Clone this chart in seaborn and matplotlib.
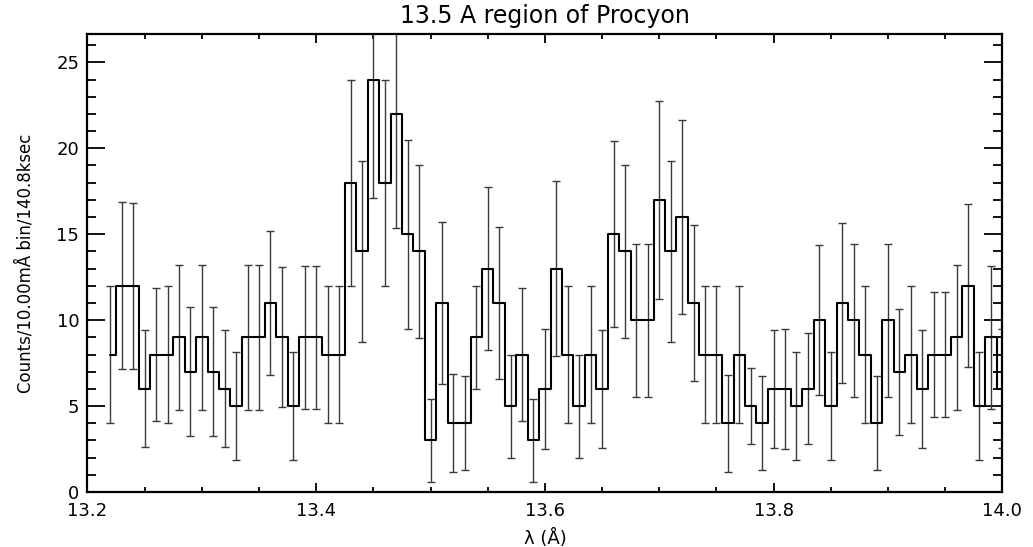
import matplotlib
matplotlib.use('Agg')
import matplotlib.pyplot as plt
import seaborn as sns
from matplotlib.ticker import MultipleLocator

# bin centres (Angstrom), 10 mA bins
wavelength = [
    13.22, 13.23, 13.24, 13.25, 13.26, 13.27, 13.28, 13.29, 13.30, 13.31,
    13.32, 13.33, 13.34, 13.35, 13.36, 13.37, 13.38, 13.39, 13.40, 13.41,
    13.42, 13.43, 13.44, 13.45, 13.46, 13.47, 13.48, 13.49, 13.50, 13.51,
    13.52, 13.53, 13.54, 13.55, 13.56, 13.57, 13.58, 13.59, 13.60, 13.61,
    13.62, 13.63, 13.64, 13.65, 13.66, 13.67, 13.68, 13.69, 13.70, 13.71,
    13.72, 13.73, 13.74, 13.75, 13.76, 13.77, 13.78, 13.79, 13.80, 13.81,
    13.82, 13.83, 13.84, 13.85, 13.86, 13.87, 13.88, 13.89, 13.90, 13.91,
    13.92, 13.93, 13.94, 13.95, 13.96, 13.97, 13.98, 13.99, 14.00,
]

counts = [
    8, 12, 12, 6, 8, 8, 9, 7, 9, 7,
    6, 5, 9, 9, 11, 9, 5, 9, 9, 8,
    8, 18, 14, 24, 18, 22, 15, 14, 3, 11,
    4, 4, 9, 13, 11, 5, 8, 3, 6, 13,
    8, 5, 8, 6, 15, 14, 10, 10, 17, 14,
    16, 11, 8, 8, 4, 8, 5, 4, 6, 6,
    5, 6, 10, 5, 11, 10, 8, 4, 10, 7,
    8, 6, 8, 8, 9, 12, 5, 9, 6,
]

count_err = [
    4.00, 4.87, 4.83, 3.40, 3.86, 4.00, 4.22, 3.75, 4.22, 3.75,
    3.40, 3.14, 4.22, 4.22, 4.17, 4.07, 3.14, 4.18, 4.18, 4.00,
    4.00, 6.00, 5.28, 6.90, 6.00, 6.64, 5.49, 5.05, 2.42, 4.70,
    2.84, 2.74, 3.00, 4.74, 4.43, 3.00, 3.86, 2.42, 3.47, 5.08,
    4.00, 3.00, 4.00, 3.43, 5.40, 5.05, 4.45, 4.45, 5.78, 5.28,
    5.63, 4.56, 4.00, 4.00, 2.83, 4.00, 2.23, 2.74, 3.42, 3.48,
    3.13, 3.23, 4.37, 3.14, 4.66, 4.45, 4.00, 2.74, 4.45, 3.66,
    4.00, 3.43, 3.64, 3.64, 4.22, 4.75, 3.15, 4.17, 3.46,
]

sns.set_style('ticks')
plt.rcParams['font.family'] = ['DejaVu Sans']
plt.rcParams['text.color'] = 'black'
plt.rcParams['axes.labelcolor'] = 'black'
plt.rcParams['xtick.color'] = 'black'
plt.rcParams['ytick.color'] = 'black'

fig = plt.figure(figsize=(10.33, 5.47), dpi=100)
ax = fig.add_axes([0.0847, 0.1005, 0.8856, 0.8373])

ax.errorbar(wavelength, counts, yerr=count_err, fmt='none', ecolor='#3a3a3a',
            elinewidth=1.0, capsize=3.2, capthick=1.0, zorder=2)
sns.lineplot(x=wavelength, y=counts, ax=ax, drawstyle='steps-mid',
             color='black', linewidth=1.5, zorder=3)

ax.set_xlim(13.2, 14.0)
ax.set_ylim(0, 26.65)

ax.xaxis.set_major_locator(MultipleLocator(0.2))
ax.xaxis.set_minor_locator(MultipleLocator(0.05))
ax.yaxis.set_major_locator(MultipleLocator(5))
ax.yaxis.set_minor_locator(MultipleLocator(1))
ax.set_xticks([13.2, 13.4, 13.6, 13.8, 14.0])
ax.set_xticklabels(['13.2', '13.4', '13.6', '13.8', '14.0'])

ax.tick_params(axis='both', which='both', direction='in', top=True, right=True,
               width=1.3, color='black', labelsize=13, labelcolor='black')
ax.tick_params(axis='x', which='major', length=6.5, pad=7)
ax.tick_params(axis='x', which='minor', length=3.5)
ax.tick_params(axis='y', which='major', length=13, pad=6)
ax.tick_params(axis='y', which='minor', length=6.5)

for spine in ax.spines.values():
    spine.set_linewidth(1.6)
    spine.set_color('black')

ax.set_title('13.5 A region of Procyon', fontsize=17, pad=8)
ax.set_xlabel('λ (Å)', fontsize=13)
ax.xaxis.set_label_coords(0.5, -0.08)
ax.set_ylabel('Counts/10.00mÅ bin/140.8ksec', fontsize=13.2,
              family='DejaVu Sans', fontstretch='condensed')
ax.yaxis.set_label_coords(-0.058, 0.5)

fig.savefig('out.png', dpi=100)
plt.close(fig)
